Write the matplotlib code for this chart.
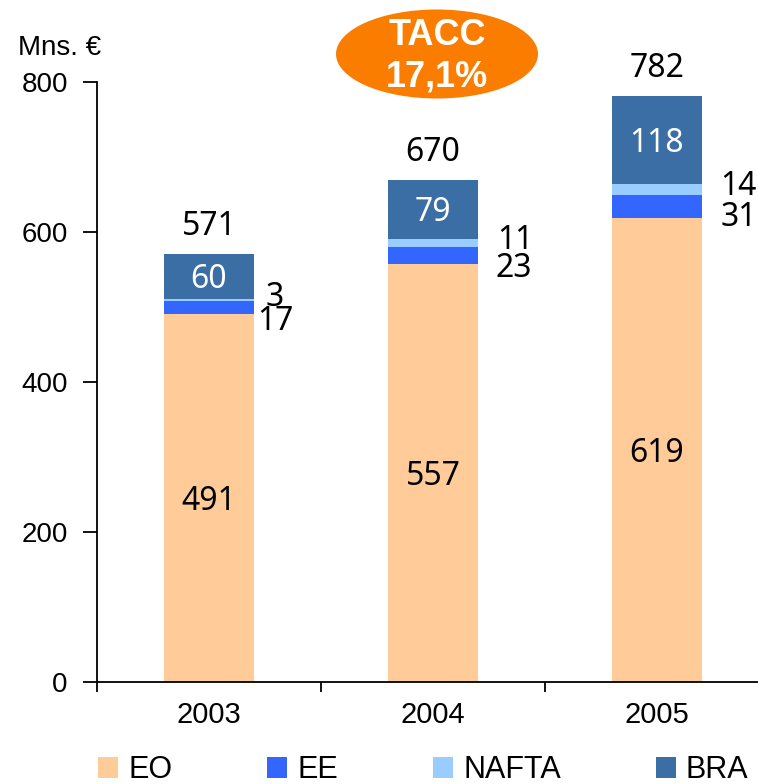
import matplotlib
matplotlib.use("Agg")
import matplotlib.pyplot as plt
from matplotlib.patches import Ellipse, Patch
import numpy as np

years = ["2003", "2004", "2005"]
eo = [491, 557, 619]
ee = [17, 23, 31]
nafta = [3, 11, 14]
bra = [60, 79, 118]
totals = [571, 670, 782]
series_names = ["EO", "EE", "NAFTA", "BRA"]
colors = ["#FFCC99", "#3366FF", "#99CCFF", "#3A6EA5"]

W, H = 758, 784
fig = plt.figure(figsize=(W / 100, H / 100), dpi=100)
ax = fig.add_axes([97 / W, (H - 682) / H, 672 / W, 600 / H])

x = np.arange(len(years))
w = 0.4
series = [eo, ee, nafta, bra]
bottom = np.zeros(len(years))
for vals, c, n in zip(series, colors, series_names):
    ax.bar(x, vals, w, bottom=bottom, color=c, label=n, linewidth=0)
    bottom += np.array(vals)

ax.set_xlim(-0.5, 2.5)
ax.set_ylim(0, 800)
for s in ["top", "right"]:
    ax.spines[s].set_visible(False)
for s in ["left", "bottom"]:
    ax.spines[s].set_linewidth(1.3)
ax.set_yticks([0, 200, 400, 600, 800])
ax.tick_params(axis="y", direction="out", length=10, width=1.3, labelsize=20, pad=11)
ax.set_xticks([-0.5, 0.5, 1.5, 2.5])
ax.set_xticklabels([])
ax.tick_params(axis="x", direction="out", length=7.5, width=1.3)
ax.set_xticks(x, minor=True)
ax.set_xticklabels(years, minor=True)
ax.tick_params(axis="x", which="minor", length=0, labelsize=21, pad=14)
for lab in ax.get_yticklabels() + ax.get_xticklabels(minor=True):
    lab.set_fontfamily("Liberation Sans")

lf = "Noto Sans"
fs = 23
px = 0.72  # points per pixel
for i in range(len(years)):
    ax.annotate(str(eo[i]), (x[i], eo[i] / 2), xytext=(0, -12 * px), textcoords="offset points",
                ha="center", va="baseline", fontsize=fs, family=lf, color="black")
    b0 = eo[i] + ee[i] + nafta[i]
    ax.annotate(str(bra[i]), (x[i], b0 + bra[i] / 2), xytext=(0, -12 * px), textcoords="offset points",
                ha="center", va="baseline", fontsize=fs, family=lf, color="white")
    ax.annotate(str(totals[i]), (x[i], totals[i]), xytext=(0, 18.5 * px), textcoords="offset points",
                ha="center", va="baseline", fontsize=fs, family=lf)

# side labels: layout offsets in pixels (dx from bar edge, dy of baseline)
ee_off = [(3, -23), (18, -21), (19, -20)]
na_off = [(12, -7), (19, -10), (18, -11)]
for i in range(len(years)):
    ee_mid = eo[i] + ee[i] / 2
    ax.annotate(str(ee[i]), (x[i] + w / 2, ee_mid),
                xytext=(ee_off[i][0] * px, ee_off[i][1] * px), textcoords="offset points",
                ha="left", va="baseline", fontsize=fs, family=lf, annotation_clip=False)
    na_top = eo[i] + ee[i] + nafta[i]
    ax.annotate(str(nafta[i]), (x[i] + w / 2, na_top),
                xytext=(na_off[i][0] * px, na_off[i][1] * px), textcoords="offset points",
                ha="left", va="baseline", fontsize=fs, family=lf, annotation_clip=False)

fig.text(18 / W, 1 - 55 / H, "Mns. €", fontsize=20, family="Liberation Sans", va="baseline", ha="left")

ell = Ellipse((437 / W, 1 - 54 / H), 202 / W, 89 / H, transform=fig.transFigure,
              facecolor="#FA7D00", edgecolor="none")
fig.patches.append(ell)
fig.text(437 / W, 1 - 45 / H, "TACC", fontsize=26, fontweight="bold", family="Liberation Sans",
         color="white", ha="center", va="baseline")
fig.text(437 / W, 1 - 87 / H, "17,1%", fontsize=26, fontweight="bold", family="Liberation Sans",
         color="white", ha="center", va="baseline")

handles = [Patch(facecolor=c, edgecolor="none") for c in colors]
fig.legend(handles, series_names, loc="center left", bbox_to_anchor=(98 / W, 1 - 770 / H), ncol=4,
           frameon=False, borderpad=0, borderaxespad=0,
           handlelength=0.66, handleheight=0.66, handletextpad=0.33, columnspacing=3.1,
           prop={"family": "Liberation Sans", "size": 22})

fig.savefig("out.png", dpi=100)
